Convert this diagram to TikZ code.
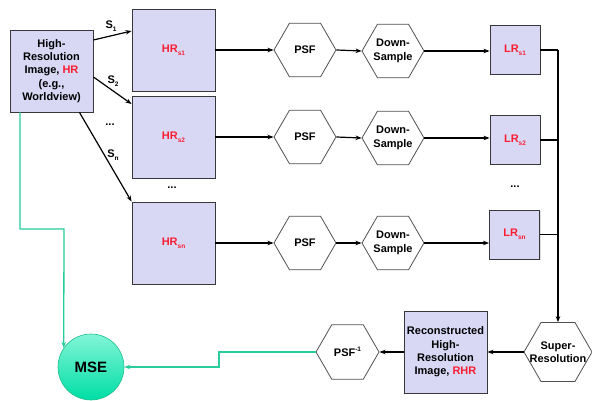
\documentclass[tikz,border=0pt]{standalone}
\usepackage{fontspec}
\setmainfont{Liberation Sans}
\usetikzlibrary{shapes.geometric,arrows.meta,shadows}
\definecolor{boxfill}{RGB}{216,216,245}
\definecolor{boxline}{RGB}{55,55,60}
\definecolor{hexline}{RGB}{80,80,80}
\definecolor{hred}{RGB}{250,30,50}
\definecolor{mint}{RGB}{40,205,155}
\definecolor{msetop}{RGB}{130,245,215}
\definecolor{msebot}{RGB}{0,222,165}
\definecolor{mseline}{RGB}{30,190,140}
\newcommand{\mysub}[1]{\raisebox{-0.45ex}{\fontsize{6.5}{7}\selectfont #1}}
\newcommand{\mysup}[1]{\raisebox{0.9ex}{\fontsize{6.5}{7}\selectfont #1}}
\begin{document}
\begin{tikzpicture}[x=1pt,y=-1pt,
  font=\fontsize{11}{13.3}\selectfont\bfseries,
  imgbox/.style={draw=boxline, fill=boxfill, line width=0.9pt, inner sep=0pt, align=center,
     drop shadow={shadow xshift=1pt, shadow yshift=-1pt, opacity=0.25}},
  hexa/.style={regular polygon, regular polygon sides=6, draw=hexline, fill=white, line width=0.8pt, inner sep=0pt},
  arr/.style={-{Stealth[length=6pt,width=4.5pt]}, line width=1.2pt},
  garr/.style={-{Stealth[length=6pt,width=4.5pt]}, draw=mint, line width=1.3pt},
  lbl/.style={inner sep=0pt, align=center}
]
\useasboundingbox (0,0) rectangle (592,401);

% source image
\node[imgbox, minimum width=83pt, minimum height=82pt] (hr) at (51.5,71)
  {High-\\Resolution\\Image, \textcolor{hred}{HR}\\(e.g.,\\Worldview)};

% shifted HR images
\node[imgbox, minimum width=83pt, minimum height=82pt] (hr1) at (173.5,50) {\textcolor{hred}{HR\mysub{s1}}};
\node[imgbox, minimum width=83pt, minimum height=82pt] (hr2) at (173.5,137) {\textcolor{hred}{HR\mysub{s2}}};
\node[imgbox, minimum width=83pt, minimum height=82pt] (hrn) at (173.5,243) {\textcolor{hred}{HR\mysub{sn}}};

% PSF hexagons
\node[hexa, minimum size=62pt, label={[lbl]center:PSF}] (psf1) at (305,50) {};
\node[hexa, minimum size=62pt, label={[lbl]center:PSF}] (psf2) at (305,137) {};
\node[hexa, minimum size=62pt, label={[lbl]center:PSF}] (psfn) at (305,243) {};

% Down-sample hexagons
\node[hexa, minimum size=62pt, label={[lbl]center:Down-\\Sample}] (ds1) at (393,51) {};
\node[hexa, minimum size=62pt, label={[lbl]center:Down-\\Sample}] (ds2) at (393,138) {};
\node[hexa, minimum size=62pt, label={[lbl]center:Down-\\Sample}] (dsn) at (393,243) {};

% LR images
\node[imgbox, minimum width=50pt, minimum height=49pt] (lr1) at (515,50) {\textcolor{hred}{LR\mysub{s1}}};
\node[imgbox, minimum width=50pt, minimum height=49pt] (lr2) at (515,140) {\textcolor{hred}{LR\mysub{s2}}};
\node[imgbox, minimum width=50pt, minimum height=49pt] (lrn) at (514.5,234.5) {\textcolor{hred}{LR\mysub{sn}}};

% Super-resolution, reconstruction, inverse PSF
\node[hexa, minimum size=68pt, label={[lbl]center:Super-\\Resolution}] (sr) at (558,352) {};
\node[imgbox, minimum width=83pt, minimum height=82pt] (rhr) at (445.5,352)
  {Reconstructed\\High-\\Resolution\\Image, \textcolor{hred}{RHR}};
\node[hexa, minimum size=63pt, label={[lbl]center:PSF\mysup{-1}}] (psfinv) at (347.5,352) {};

% MSE
\node[circle, minimum size=66pt, inner sep=0pt, draw=mseline, line width=0.6pt,
      top color=msetop, bottom color=msebot, font=\fontsize{15}{18}\selectfont\bfseries] (mse) at (91,367) {MSE};

% ellipses
\node[lbl] (d1) at (110,125) {...};
\node[lbl] (d2) at (172,188) {...};
\node[lbl] (d3) at (515,187) {...};

% shift labels
\node[lbl] (s1) at (111,26) {S\mysub{1}};
\node[lbl] (s2) at (113,81) {S\mysub{2}};
\node[lbl] (sn) at (113,155) {S\mysub{n}};

% shift arrows
\draw[arr] ([yshift=31pt]hr.east) -- ([yshift=19pt]hr1.west);
\draw[arr] ([yshift=-6pt]hr.east) -- ([yshift=33pt]hr2.west);
\draw[arr] ([xshift=28pt]hr.south) -- (hrn.north west);

% row arrows
\foreach \r in {1,2,n}{
  \draw[arr] (hr\r.east |- psf\r.west) -- (psf\r.west);
  \draw[arr] (psf\r.east) -- (ds\r.west);
  \draw[arr] (ds\r.east) -- (ds\r.east -| lr\r.west);
}

% collection line
\coordinate (top) at (558,50);
\draw[line width=1.2pt] (lr1.east) -- (top);
\draw[line width=1.2pt] (lr2.east) -- (lr2.east -| top);
\draw[line width=1.2pt] (lrn.east) -- (lrn.east -| top);
\draw[arr] (top) -- (sr.north);

% back path
\draw[arr] (sr.west) -- (rhr.east);
\draw[arr] (rhr.west) -- (psfinv.east);

% green paths
\coordinate (gc1) at (20,229);
\coordinate (gc2) at (64,229);
\draw[garr] (hr.south -| gc1) -- (gc1) -- (gc2) -- (mse.145);
\coordinate (gc3) at (219,352);
\draw[garr] (psfinv.west) -- (gc3) |- (mse.east);
\end{tikzpicture}
\end{document}
